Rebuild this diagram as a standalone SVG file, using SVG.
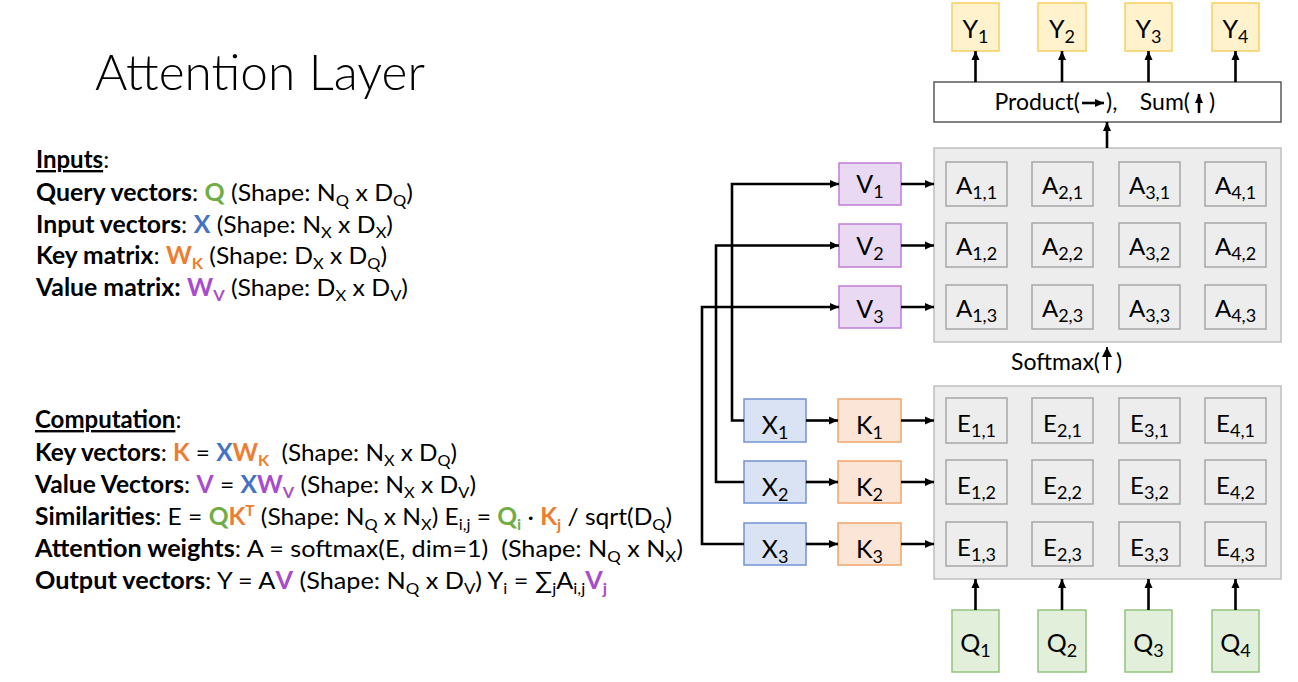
<svg xmlns="http://www.w3.org/2000/svg" width="1298" height="682" viewBox="0 0 1298 682">
<defs>
<style>
.t{font-family:Lato,"Liberation Sans",sans-serif;font-size:24px;fill:#000}
.b{font-weight:700}
.u{font-weight:700;text-decoration:underline}
.g{fill:#70AD47;font-weight:700}
.bl{fill:#4472C4;font-weight:700}
.o{fill:#ED7D31;font-weight:700}
.p{fill:#A84CCB;font-weight:700}
.s{font-size:16px;baseline-shift:-5px}
.sp{font-size:15px;baseline-shift:9px}
.n{font-family:Lato,"Liberation Sans",sans-serif;font-size:25px;fill:#000;text-anchor:middle}
.ns{font-size:18px;baseline-shift:-5px}
.c{font-family:Lato,"Liberation Sans",sans-serif;font-size:24px;fill:#000;text-anchor:middle}
.cs{font-size:18px;baseline-shift:-5px}
.lbl{font-family:Lato,"Liberation Sans",sans-serif;font-size:23px;fill:#000}
.yb{fill:#FFF2CC;stroke:#F6CF63;stroke-width:1.5}
.qb{fill:#E2EFDA;stroke:#93C47D;stroke-width:1.5}
.vb{fill:#EAD9F2;stroke:#C27CD9;stroke-width:1.5}
.xb{fill:#DAE3F3;stroke:#7193D3;stroke-width:1.5}
.kb{fill:#FBE5D6;stroke:#F2A46C;stroke-width:1.5}
.mat{fill:#EDEDED;stroke:#BFBFBF;stroke-width:1.5}
.cell{fill:#EDEDED;stroke:#A6A6A6;stroke-width:1.5}
.pb{fill:#FFFFFF;stroke:#595959;stroke-width:1.5}
.ar{fill:none;stroke:#000;stroke-width:2.6;marker-end:url(#ah)}
.ar2{fill:none;stroke:#000;stroke-width:1.8;marker-end:url(#ah2)}
</style>
<marker id="ah" markerWidth="10" markerHeight="9" refX="9" refY="4.5" orient="auto" markerUnits="userSpaceOnUse"><path d="M0,0.5 L9,4.5 L0,8.5 z" fill="#000"/></marker>
<marker id="ah2" markerWidth="11" markerHeight="11" refX="10" refY="5.5" orient="auto" markerUnits="userSpaceOnUse"><path d="M0,0.5 L10,5.5 L0,10.5 z" fill="#000"/></marker>
</defs>
<rect width="1298" height="682" fill="#FFFFFF"/>

<g id="title">
<text x="95" y="90" font-family="Lato,'Liberation Sans',sans-serif" font-weight="300" font-size="50" textLength="330" lengthAdjust="spacingAndGlyphs">Attention Layer</text>
</g>

<g id="inputs-text">
<text class="t" x="36" y="168" xml:space="preserve"><tspan class="u">Inputs</tspan>:</text>
<text class="t" x="36" y="201" xml:space="preserve" textLength="377" lengthAdjust="spacingAndGlyphs"><tspan class="b">Query vectors</tspan>: <tspan class="g">Q</tspan> (Shape: N<tspan class="s">Q</tspan> x D<tspan class="s">Q</tspan>)</text>
<text class="t" x="36" y="233" xml:space="preserve" textLength="357" lengthAdjust="spacingAndGlyphs"><tspan class="b">Input vectors</tspan>: <tspan class="bl">X</tspan> (Shape: N<tspan class="s">X</tspan> x D<tspan class="s">X</tspan>)</text>
<text class="t" x="36" y="264" xml:space="preserve" textLength="351" lengthAdjust="spacingAndGlyphs"><tspan class="b">Key matrix</tspan>: <tspan class="o">W<tspan class="s">K</tspan></tspan> (Shape: D<tspan class="s">X</tspan> x D<tspan class="s">Q</tspan>)</text>
<text class="t" x="36" y="296" xml:space="preserve" textLength="372" lengthAdjust="spacingAndGlyphs"><tspan class="b">Value matrix:</tspan> <tspan class="p">W<tspan class="s">V</tspan></tspan> (Shape: D<tspan class="s">X</tspan> x D<tspan class="s">V</tspan>)</text>
</g>

<g id="computation-text">
<text class="t" x="35" y="428" xml:space="preserve"><tspan class="u">Computation</tspan>:</text>
<text class="t" x="35" y="461" xml:space="preserve" textLength="422" lengthAdjust="spacingAndGlyphs"><tspan class="b">Key vectors</tspan>: <tspan class="o">K</tspan> = <tspan class="bl">X</tspan><tspan class="o">W<tspan class="s">K</tspan></tspan>  (Shape: N<tspan class="s">X</tspan> x D<tspan class="s">Q</tspan>)</text>
<text class="t" x="35" y="493" xml:space="preserve" textLength="441" lengthAdjust="spacingAndGlyphs"><tspan class="b">Value Vectors</tspan>: <tspan class="p">V</tspan> = <tspan class="bl">X</tspan><tspan class="p">W<tspan class="s">V</tspan></tspan> (Shape: N<tspan class="s">X</tspan> x D<tspan class="s">V</tspan>)</text>
<text class="t" x="35" y="525" xml:space="preserve" textLength="637" lengthAdjust="spacingAndGlyphs"><tspan class="b">Similarities</tspan>: E = <tspan class="g">Q</tspan><tspan class="o">K<tspan class="sp">T</tspan></tspan> (Shape: N<tspan class="s">Q</tspan> x N<tspan class="s">X</tspan>) E<tspan class="s">i,j</tspan> = <tspan class="g">Q<tspan class="s">i</tspan></tspan> · <tspan class="o">K<tspan class="s">j</tspan></tspan> / sqrt(D<tspan class="s">Q</tspan>)</text>
<text class="t" x="35" y="557" xml:space="preserve" textLength="648" lengthAdjust="spacingAndGlyphs"><tspan class="b">Attention weights</tspan>: A = softmax(E, dim=1)  (Shape: N<tspan class="s">Q</tspan> x N<tspan class="s">X</tspan>)</text>
<text class="t" x="35" y="589" xml:space="preserve" textLength="572" lengthAdjust="spacingAndGlyphs"><tspan class="b">Output vectors</tspan>: Y = A<tspan class="p">V</tspan> (Shape: N<tspan class="s">Q</tspan> x D<tspan class="s">V</tspan>) Y<tspan class="s">i</tspan> = ∑<tspan class="s">j</tspan>A<tspan class="s">i,j</tspan><tspan class="p">V<tspan class="s">j</tspan></tspan></text>
</g>

<g id="Y1"><rect class="yb" x="952" y="3" width="47" height="48"/><text class="n" x="975.5" y="38">Y<tspan class="ns">1</tspan></text></g>
<g id="Y2"><rect class="yb" x="1038" y="3" width="48" height="48"/><text class="n" x="1062" y="38">Y<tspan class="ns">2</tspan></text></g>
<g id="Y3"><rect class="yb" x="1125" y="3" width="47" height="48"/><text class="n" x="1148.5" y="38">Y<tspan class="ns">3</tspan></text></g>
<g id="Y4"><rect class="yb" x="1212" y="3" width="47" height="48"/><text class="n" x="1235.5" y="38">Y<tspan class="ns">4</tspan></text></g>

<g id="product">
<rect class="pb" x="934" y="82" width="347" height="40"/>
<text class="lbl" x="1080" y="110" text-anchor="end">Product(</text>
<path d="M1082,103 H1104" class="ar"/>
<text class="lbl" x="1106" y="110">),</text>
<text class="lbl" x="1190" y="110" text-anchor="end">Sum(</text>
<path d="M1199,113 V94" class="ar"/>
<text class="lbl" x="1209" y="110">)</text>
</g>

<g id="A-matrix">
<rect class="mat" x="934" y="148" width="347" height="194"/>
<rect class="cell" x="946" y="162" width="61" height="44"/><text class="c" x="976.5" y="194">A<tspan class="cs">1,1</tspan></text>
<rect class="cell" x="1032" y="162" width="61" height="44"/><text class="c" x="1062.5" y="194">A<tspan class="cs">2,1</tspan></text>
<rect class="cell" x="1119" y="162" width="61" height="44"/><text class="c" x="1149.5" y="194">A<tspan class="cs">3,1</tspan></text>
<rect class="cell" x="1205" y="162" width="61" height="44"/><text class="c" x="1235.5" y="194">A<tspan class="cs">4,1</tspan></text>
<rect class="cell" x="946" y="223" width="61" height="44"/><text class="c" x="976.5" y="255">A<tspan class="cs">1,2</tspan></text>
<rect class="cell" x="1032" y="223" width="61" height="44"/><text class="c" x="1062.5" y="255">A<tspan class="cs">2,2</tspan></text>
<rect class="cell" x="1119" y="223" width="61" height="44"/><text class="c" x="1149.5" y="255">A<tspan class="cs">3,2</tspan></text>
<rect class="cell" x="1205" y="223" width="61" height="44"/><text class="c" x="1235.5" y="255">A<tspan class="cs">4,2</tspan></text>
<rect class="cell" x="946" y="285" width="61" height="44"/><text class="c" x="976.5" y="317">A<tspan class="cs">1,3</tspan></text>
<rect class="cell" x="1032" y="285" width="61" height="44"/><text class="c" x="1062.5" y="317">A<tspan class="cs">2,3</tspan></text>
<rect class="cell" x="1119" y="285" width="61" height="44"/><text class="c" x="1149.5" y="317">A<tspan class="cs">3,3</tspan></text>
<rect class="cell" x="1205" y="285" width="61" height="44"/><text class="c" x="1235.5" y="317">A<tspan class="cs">4,3</tspan></text>
</g>

<g id="softmax">
<text class="lbl" x="1100" y="370" text-anchor="end" font-size="24">Softmax(</text>
<path d="M1107,370 V347" class="ar2"/>
<text class="lbl" x="1116" y="370" font-size="24">)</text>
</g>

<g id="E-matrix">
<rect class="mat" x="934" y="386" width="347" height="193"/>
<rect class="cell" x="946" y="398" width="61" height="45"/><text class="c" x="976.5" y="432">E<tspan class="cs">1,1</tspan></text>
<rect class="cell" x="1032" y="398" width="61" height="45"/><text class="c" x="1062.5" y="432">E<tspan class="cs">2,1</tspan></text>
<rect class="cell" x="1119" y="398" width="61" height="45"/><text class="c" x="1149.5" y="432">E<tspan class="cs">3,1</tspan></text>
<rect class="cell" x="1205" y="398" width="61" height="45"/><text class="c" x="1235.5" y="432">E<tspan class="cs">4,1</tspan></text>
<rect class="cell" x="946" y="460" width="61" height="44"/><text class="c" x="976.5" y="494">E<tspan class="cs">1,2</tspan></text>
<rect class="cell" x="1032" y="460" width="61" height="44"/><text class="c" x="1062.5" y="494">E<tspan class="cs">2,2</tspan></text>
<rect class="cell" x="1119" y="460" width="61" height="44"/><text class="c" x="1149.5" y="494">E<tspan class="cs">3,2</tspan></text>
<rect class="cell" x="1205" y="460" width="61" height="44"/><text class="c" x="1235.5" y="494">E<tspan class="cs">4,2</tspan></text>
<rect class="cell" x="946" y="522" width="61" height="44"/><text class="c" x="976.5" y="556">E<tspan class="cs">1,3</tspan></text>
<rect class="cell" x="1032" y="522" width="61" height="44"/><text class="c" x="1062.5" y="556">E<tspan class="cs">2,3</tspan></text>
<rect class="cell" x="1119" y="522" width="61" height="44"/><text class="c" x="1149.5" y="556">E<tspan class="cs">3,3</tspan></text>
<rect class="cell" x="1205" y="522" width="61" height="44"/><text class="c" x="1235.5" y="556">E<tspan class="cs">4,3</tspan></text>
</g>

<g id="Q1"><rect class="qb" x="952" y="610" width="47" height="62"/><text class="n" x="975.5" y="652">Q<tspan class="ns">1</tspan></text></g>
<g id="Q2"><rect class="qb" x="1038" y="610" width="48" height="62"/><text class="n" x="1062" y="652">Q<tspan class="ns">2</tspan></text></g>
<g id="Q3"><rect class="qb" x="1125" y="610" width="47" height="62"/><text class="n" x="1148.5" y="652">Q<tspan class="ns">3</tspan></text></g>
<g id="Q4"><rect class="qb" x="1212" y="610" width="47" height="62"/><text class="n" x="1235.5" y="652">Q<tspan class="ns">4</tspan></text></g>

<g id="V1"><rect class="vb" x="839" y="163" width="62" height="42"/><text class="n" x="870" y="193">V<tspan class="ns">1</tspan></text></g>
<g id="V2"><rect class="vb" x="839" y="224" width="62" height="43"/><text class="n" x="870" y="255">V<tspan class="ns">2</tspan></text></g>
<g id="V3"><rect class="vb" x="839" y="286" width="62" height="42"/><text class="n" x="870" y="318">V<tspan class="ns">3</tspan></text></g>

<g id="X1"><rect class="xb" x="744" y="399" width="62" height="43"/><text class="n" x="775" y="434">X<tspan class="ns">1</tspan></text></g>
<g id="X2"><rect class="xb" x="744" y="461" width="62" height="42"/><text class="n" x="775" y="496">X<tspan class="ns">2</tspan></text></g>
<g id="X3"><rect class="xb" x="744" y="523" width="62" height="42"/><text class="n" x="775" y="558">X<tspan class="ns">3</tspan></text></g>

<g id="K1"><rect class="kb" x="838" y="399" width="63" height="43"/><text class="n" x="869.5" y="434">K<tspan class="ns">1</tspan></text></g>
<g id="K2"><rect class="kb" x="838" y="461" width="63" height="42"/><text class="n" x="869.5" y="496">K<tspan class="ns">2</tspan></text></g>
<g id="K3"><rect class="kb" x="838" y="523" width="63" height="42"/><text class="n" x="869.5" y="558">K<tspan class="ns">3</tspan></text></g>

<g id="connectors">
<path class="ar" d="M975.5,82 V51"/>
<path class="ar" d="M1062,82 V51"/>
<path class="ar" d="M1148.5,82 V51"/>
<path class="ar" d="M1235.5,82 V51"/>
<path class="ar" d="M1107,148 V122"/>
<path class="ar" d="M975.5,610 V579"/>
<path class="ar" d="M1062,610 V579"/>
<path class="ar" d="M1148.5,610 V579"/>
<path class="ar" d="M1235.5,610 V579"/>
<path class="ar" d="M901,184 H934"/>
<path class="ar" d="M901,245.5 H934"/>
<path class="ar" d="M901,307 H934"/>
<path class="ar" d="M901,420.5 H934"/>
<path class="ar" d="M901,482 H934"/>
<path class="ar" d="M901,544 H934"/>
<path class="ar" d="M806,420.5 H838"/>
<path class="ar" d="M806,482 H838"/>
<path class="ar" d="M806,544 H838"/>
<path class="ar" d="M744,420.5 H732 V184 H839"/>
<path class="ar" d="M744,482 H716 V245.5 H839"/>
<path class="ar" d="M744,544 H702 V307 H839"/>
</g>
</svg>
